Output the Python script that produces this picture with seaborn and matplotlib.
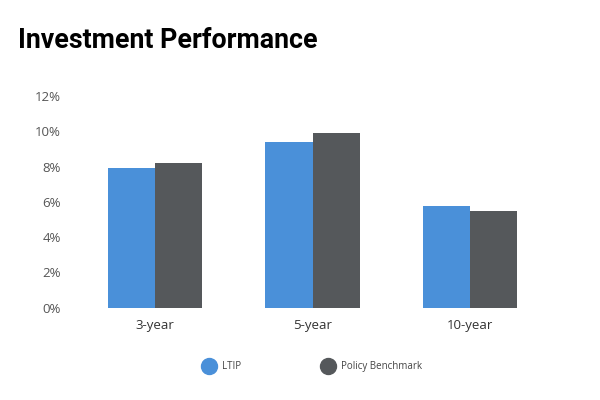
import pandas as pd
import matplotlib
matplotlib.use("Agg")
import matplotlib.pyplot as plt
from matplotlib.lines import Line2D
from matplotlib.ticker import PercentFormatter
import seaborn as sns

# data
periods = ["3-year", "5-year", "10-year"]
ltip = [7.9, 9.4, 5.75]
benchmark = [8.2, 9.9, 5.45]
series_names = ["LTIP", "Policy Benchmark"]
colors = ["#4A90D9", "#55585B"]

df = pd.DataFrame({
    "period": periods * 2,
    "series": [series_names[0]] * 3 + [series_names[1]] * 3,
    "value": ltip + benchmark,
})

sns.set_style("white")
plt.rcParams["font.family"] = ["Open Sans", "DejaVu Sans"]

fig = plt.figure(figsize=(6, 4), dpi=100)
ax = fig.add_axes([0.127, 0.231, 0.788, 0.529])

sns.barplot(data=df, x="period", y="value", hue="series", palette=colors,
            width=0.6, gap=0, saturation=1, linewidth=0, legend=False, ax=ax)

ax.set_ylim(0, 12)
ax.set_xlim(-0.5, 2.5)
ax.set_yticks(range(0, 13, 2))
ax.yaxis.set_major_formatter(PercentFormatter(decimals=0))
ax.set_xlabel("")
ax.set_ylabel("")
sns.despine(ax=ax, left=True, bottom=True)
ax.tick_params(axis="y", length=0, pad=11, labelsize=9.5, labelcolor="#555555")
ax.tick_params(axis="x", length=0, pad=8, labelsize=9.5, labelcolor="#333333")

fig.text(0.03, 0.9, "Investment Performance", fontsize=19.3, fontweight="bold",
         family=["Roboto", "DejaVu Sans"], color="black", va="center", ha="left")

handles = [Line2D([], [], marker="o", linestyle="", markersize=11.5,
                  markerfacecolor=c, markeredgecolor=c) for c in colors]
fig.legend(handles, series_names, loc="center", bbox_to_anchor=(0.518, 0.083),
           ncol=2, frameon=False, fontsize=7, columnspacing=8.0, handletextpad=0.3,
           labelcolor="#444444")

fig.savefig("out.png", dpi=100)
